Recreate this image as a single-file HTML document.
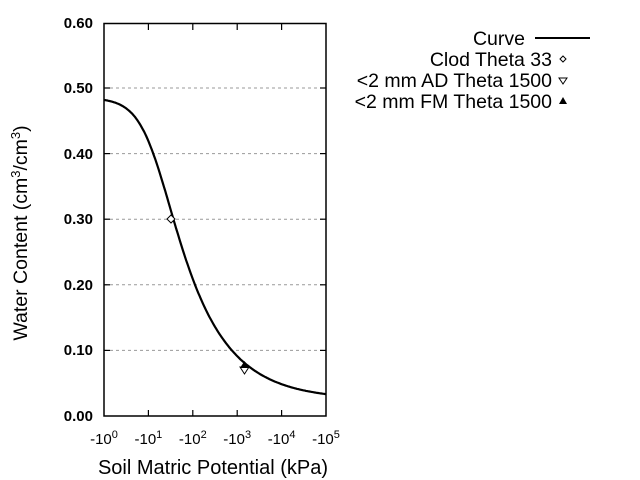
<!DOCTYPE html>
<html><head><style>body{margin:0;background:#fff}svg{display:block}text{font-family:"Liberation Sans",sans-serif}</style></head><body>
<svg id="s" width="640" height="480" xmlns="http://www.w3.org/2000/svg">
<g stroke="#999" stroke-dasharray="3,3" stroke-width="1">
<line x1="104" x2="326" y1="350.4" y2="350.4"/><line x1="104" x2="326" y1="284.8" y2="284.8"/><line x1="104" x2="326" y1="219.2" y2="219.2"/><line x1="104" x2="326" y1="153.6" y2="153.6"/><line x1="104" x2="326" y1="88" y2="88"/>
</g>
<rect x="104" y="23.5" width="222" height="392.5" fill="none" stroke="#000" stroke-width="1.5"/>
<g stroke="#000" stroke-width="1.2">
<line x1="104" x2="110" y1="350.4" y2="350.4"/><line x1="104" x2="110" y1="284.8" y2="284.8"/><line x1="104" x2="110" y1="219.2" y2="219.2"/><line x1="104" x2="110" y1="153.6" y2="153.6"/><line x1="104" x2="110" y1="88" y2="88"/>
<line x1="320" x2="326" y1="350.4" y2="350.4"/><line x1="320" x2="326" y1="284.8" y2="284.8"/><line x1="320" x2="326" y1="219.2" y2="219.2"/><line x1="320" x2="326" y1="153.6" y2="153.6"/><line x1="320" x2="326" y1="88" y2="88"/>
<line x1="148.4" x2="148.4" y1="416" y2="410"/><line x1="192.8" x2="192.8" y1="416" y2="410"/><line x1="237.2" x2="237.2" y1="416" y2="410"/><line x1="281.6" x2="281.6" y1="416" y2="410"/>
<line x1="148.4" x2="148.4" y1="24" y2="30"/><line x1="192.8" x2="192.8" y1="24" y2="30"/><line x1="237.2" x2="237.2" y1="24" y2="30"/><line x1="281.6" x2="281.6" y1="24" y2="30"/>
</g>
<g font-size="15" text-anchor="end" font-weight="bold">
<text x="93" y="421">0.00</text><text x="93" y="355">0.10</text><text x="93" y="290">0.20</text><text x="93" y="224">0.30</text><text x="93" y="159">0.40</text><text x="93" y="93">0.50</text><text x="93" y="28">0.60</text>
</g>
<g font-size="15" text-anchor="middle">
<text x="104" y="444">-10<tspan font-size="11" dy="-6">0</tspan></text>
<text x="148.4" y="444">-10<tspan font-size="11" dy="-6">1</tspan></text>
<text x="192.8" y="444">-10<tspan font-size="11" dy="-6">2</tspan></text>
<text x="237.2" y="444">-10<tspan font-size="11" dy="-6">3</tspan></text>
<text x="281.6" y="444">-10<tspan font-size="11" dy="-6">4</tspan></text>
<text x="326" y="444">-10<tspan font-size="11" dy="-6">5</tspan></text>
</g>
<text x="213" y="474" font-size="20" text-anchor="middle">Soil Matric Potential (kPa)</text>
<text transform="translate(27,233) rotate(-90)" font-size="19.5" text-anchor="middle">Water Content (cm<tspan font-size="13" dy="-7">3</tspan><tspan dy="7">/cm</tspan><tspan font-size="13" dy="-7">3</tspan><tspan dy="7">)</tspan></text>
<polyline id="c" fill="none" stroke="#000" stroke-width="2.2"/>
<path d="M171,215 L175,219 L171,223 L167,219 Z" fill="#fff" stroke="#000" stroke-width="1"/>
<path d="M240,367 L249,367 L244.5,374 Z" fill="#fff" stroke="#000" stroke-width="1"/>
<path d="M240,368 L249,368 L244.5,361 Z" fill="#000"/>
<g font-size="19.5" text-anchor="end">
<text x="525" y="45">Curve</text>
<text x="552" y="66">Clod Theta 33</text>
<text x="552" y="87">&lt;2 mm AD Theta 1500</text>
<text x="552" y="108">&lt;2 mm FM Theta 1500</text>
</g>
<line x1="535" x2="590" y1="38" y2="38" stroke="#000" stroke-width="2"/>
<path d="M563,56 L566,59 L563,62 L560,59 Z" fill="#fff" stroke="#000"/>
<path d="M559,78 L567,78 L563,84 Z" fill="#fff" stroke="#000"/>
<path d="M559,104 L567,104 L563,97 Z" fill="#000"/>
</svg>
<script>
var p=[],tr=0.025,ts=0.485,a=0.074,n=1.45,m=1-1/n;
for(var i=0;i<=200;i++){var l=i*5/200,h=Math.pow(10,l);var se=Math.pow(1+Math.pow(a*h,n),-m);var t=tr+(ts-tr)*se;p.push((104+l*44.4).toFixed(1)+","+(416-t*656).toFixed(1));}
document.getElementById("c").setAttribute("points",p.join(" "));
</script>
</body></html>
